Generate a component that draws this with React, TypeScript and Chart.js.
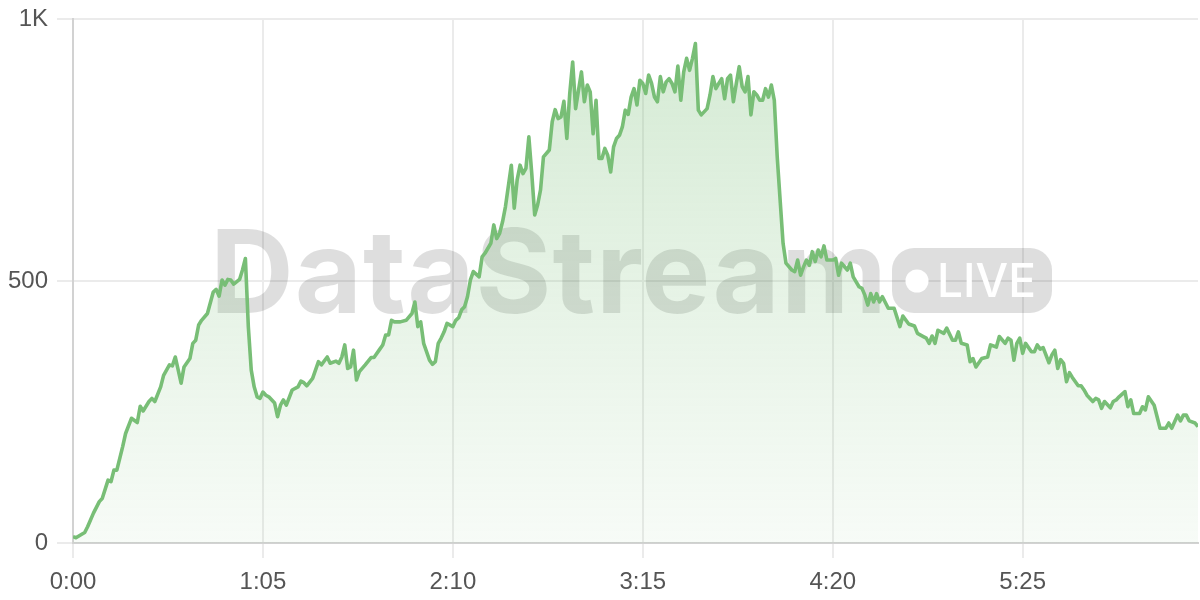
import React, { useEffect, useRef } from 'react';
import { Chart, registerables } from 'chart.js';

Chart.register(...registerables);

// Elapsed time in seconds
const seconds = [
  0, 1, 4, 5, 7, 9, 10, 12, 13, 14, 15, 17, 18, 20, 22, 23, 24, 26, 27, 28,
  30, 31, 33, 34, 35, 37, 38, 40, 41, 42, 43, 44, 46, 48, 49, 50, 51, 52, 53, 54,
  55, 57, 58, 59, 60, 61, 62, 63, 64, 65, 66, 67, 69, 70, 71, 72, 73, 75, 77, 78,
  79, 80, 82, 84, 85, 87, 88, 90, 91, 92, 93, 94, 95, 96, 97, 98, 100, 102, 103, 105,
  106, 107, 108, 109, 110, 112, 114, 116, 117, 118, 119, 120, 122, 123, 124, 125, 126, 127, 128, 130,
  131, 132, 133, 134, 135, 136, 137, 139, 140, 141, 143, 144, 145, 146, 147, 148, 150, 151, 152, 153,
  154, 155, 156, 157, 158, 159, 160, 161, 163, 164, 165, 166, 167, 168, 169, 170, 171, 172, 173, 174,
  175, 176, 177, 178, 179, 180, 181, 182, 183, 184, 185, 186, 187, 188, 189, 190, 191, 192, 193, 194,
  195, 196, 197, 198, 199, 200, 201, 202, 203, 204, 205, 206, 207, 208, 209, 210, 211, 212, 213, 214,
  215, 217, 218, 219, 220, 221, 222, 223, 224, 225, 226, 227, 228, 229, 230, 231, 232, 233, 234, 235,
  236, 237, 238, 239, 240, 241, 242, 243, 244, 246, 247, 248, 249, 250, 251, 252, 253, 254, 255, 256,
  257, 258, 259, 260, 261, 262, 263, 265, 266, 267, 269, 270, 271, 272, 273, 274, 275, 276, 277, 279,
  281, 283, 284, 286, 288, 289, 291, 292, 293, 294, 295, 296, 298, 299, 301, 302, 303, 304, 306, 307,
  308, 309, 311, 313, 314, 316, 317, 319, 320, 321, 322, 323, 324, 325, 326, 328, 329, 330, 331, 332,
  334, 335, 336, 337, 338, 339, 340, 341, 342, 344, 345, 346, 347, 349, 350, 351, 352, 353, 355, 356,
  357, 358, 360, 361, 362, 363, 365, 366, 367, 368, 370, 371, 372, 374, 375, 376, 378, 379, 380, 381,
  382, 384, 385,
];

// Value at each sample
const values = [
  12, 10, 20, 31, 57, 79, 85, 120, 117, 139, 139, 184, 209, 238, 230, 261, 252, 270, 276, 270,
  298, 320, 340, 338, 355, 305, 336, 352, 381, 387, 416, 425, 438, 479, 484, 471, 502, 492, 503, 502,
  494, 503, 521, 543, 413, 330, 298, 279, 276, 288, 282, 279, 267, 241, 263, 273, 263, 292, 298, 309,
  306, 300, 314, 346, 340, 355, 343, 347, 343, 355, 378, 333, 336, 368, 311, 327, 340, 354, 354, 370,
  378, 397, 397, 425, 422, 422, 425, 438, 460, 413, 422, 381, 349, 341, 346, 381, 391, 403, 419, 413,
  425, 430, 445, 451, 470, 502, 518, 508, 546, 553, 572, 607, 581, 591, 613, 642, 721, 639, 693, 721,
  705, 715, 775, 705, 626, 645, 674, 737, 750, 804, 827, 810, 813, 843, 772, 858, 918, 829, 864, 899,
  842, 874, 861, 781, 845, 734, 734, 753, 740, 708, 756, 772, 778, 794, 826, 818, 851, 867, 836, 883,
  877, 858, 893, 877, 851, 842, 890, 861, 880, 886, 877, 861, 910, 845, 899, 925, 902, 925, 953, 826,
  817, 829, 855, 890, 867, 877, 886, 848, 886, 893, 842, 877, 909, 871, 861, 890, 817, 861, 855, 845,
  845, 867, 851, 874, 845, 737, 654, 572, 534, 521, 518, 540, 511, 527, 540, 530, 556, 537, 559, 546,
  567, 540, 540, 540, 543, 511, 534, 521, 534, 508, 489, 486, 473, 454, 476, 460, 476, 460, 470, 448,
  448, 413, 433, 418, 414, 400, 394, 391, 381, 395, 381, 406, 400, 410, 387, 387, 403, 381, 378, 346,
  352, 336, 352, 355, 378, 374, 394, 381, 391, 387, 349, 381, 391, 362, 381, 365, 365, 378, 370, 373,
  344, 359, 368, 333, 350, 343, 308, 325, 316, 300, 300, 292, 282, 270, 276, 273, 257, 270, 258, 270,
  273, 279, 289, 260, 273, 247, 247, 260, 254, 279, 263, 241, 219, 219, 229, 219, 244, 233, 244, 244,
  233, 229, 222,
];

const xTickValues = [0, 65, 130, 195, 260, 325];
const yTickValues = [0, 500, 1000];
const yTickLabels = ['0', '500', '1K'];
const xMax = 385;
const yMax = 1000;

const watermarkTitle = 'DataStream';
const watermarkBadge = 'LIVE';

const fmtTime = (v: number) => `${Math.floor(v / 60)}:${String(v % 60).padStart(2, '0')}`;

const watermarkPlugin = {
  id: 'watermark',
  beforeDatasetsDraw(chart: any) {
    const ctx = chart.ctx as any;
    ctx.save();
    ctx.fillStyle = 'rgba(0,0,0,0.13)';
    ctx.font = '700 116px Inter';
    ctx.textBaseline = 'alphabetic';
    ctx.textAlign = 'left';
    ctx.letterSpacing = '1px';
    ctx.fillText(watermarkTitle, 210, 313);
    ctx.letterSpacing = '0px';
    ctx.beginPath();
    ctx.roundRect(892, 248, 160, 65, 22);
    ctx.fill();
    ctx.fillStyle = '#ffffff';
    ctx.beginPath();
    ctx.arc(917, 281, 11.5, 0, Math.PI * 2);
    ctx.fill();
    ctx.font = '500 46px Inter';
    ctx.fillText(watermarkBadge, 937, 297);
    ctx.restore();
  },
};

export default function App() {
  const canvasRef = useRef<HTMLCanvasElement | null>(null);

  useEffect(() => {
    const canvas = canvasRef.current;
    if (!canvas) return;
    const points = seconds.map((s, i) => ({ x: s, y: values[i] }));
    const chart = new Chart(canvas, {
      type: 'line',
      data: {
        datasets: [
          {
            data: points,
            borderColor: 'rgb(120,190,118)',
            borderWidth: 3.6,
            borderJoinStyle: 'round',
            pointRadius: 0,
            tension: 0,
            fill: 'origin',
            backgroundColor: (c: any) => {
              const area = c.chart.chartArea;
              if (!area) return 'rgba(120,190,118,0.2)';
              const g = c.chart.ctx.createLinearGradient(0, area.top, 0, area.bottom);
              g.addColorStop(0, 'rgba(120,190,118,0.32)');
              g.addColorStop(1, 'rgba(120,190,118,0.06)');
              return g;
            },
          },
        ],
      },
      options: {
        animation: false,
        responsive: true,
        maintainAspectRatio: false,
        layout: { padding: { top: 19, right: 2, left: 0, bottom: 0 } },
        plugins: { legend: { display: false }, tooltip: { enabled: false } },
        scales: {
          x: {
            type: 'linear',
            min: 0,
            max: xMax,
            afterBuildTicks: (s: any) => {
              s.ticks = xTickValues.map((v) => ({ value: v }));
            },
            afterFit: (s: any) => {
              s.height = 57;
              s.paddingLeft = 0;
              s.paddingRight = 0;
            },
            ticks: {
              callback: (v: any) => fmtTime(Number(v)),
              color: '#555555',
              font: { family: 'Liberation Sans', size: 24 },
              padding: 10,
              maxRotation: 0,
              autoSkip: false,
            },
            grid: { color: '#ebebeb', lineWidth: 2, tickLength: 15 },
            border: { color: '#d2d2d2', width: 2 },
          },
          y: {
            min: 0,
            max: yMax,
            afterBuildTicks: (s: any) => {
              s.ticks = yTickValues.map((v) => ({ value: v }));
            },
            afterFit: (s: any) => {
              s.width = 73;
              s.paddingTop = 0;
              s.paddingBottom = 0;
            },
            ticks: {
              callback: (v: any) => yTickLabels[yTickValues.indexOf(Number(v))],
              color: '#555555',
              font: { family: 'Liberation Sans', size: 24 },
              padding: 9,
            },
            grid: { color: '#ebebeb', lineWidth: 2, tickLength: 16 },
            border: { color: '#d2d2d2', width: 2 },
          },
        },
      },
      plugins: [watermarkPlugin],
    });
    return () => chart.destroy();
  }, []);

  return (
    <div style={{ position: 'fixed', left: 0, top: 0, width: 1200, height: 600, background: '#fff' }}>
      <canvas ref={canvasRef} />
    </div>
  );
}
